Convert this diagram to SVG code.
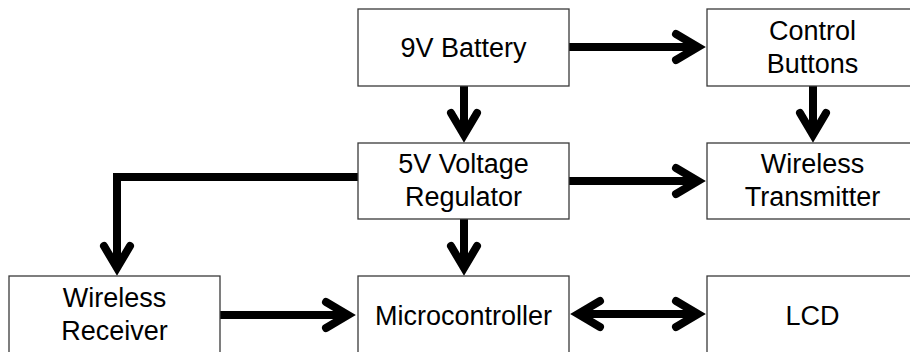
<svg xmlns="http://www.w3.org/2000/svg" width="910" height="352" viewBox="0 0 910 352">
<style>
.box{fill:#ffffff;stroke:#3a3a3a;stroke-width:1.3}
.lbl{font-family:"Liberation Sans",Arial,sans-serif;font-size:27px;fill:#000000;text-anchor:middle}
.wire{fill:none;stroke:#000000;stroke-width:8}
.head{fill:none;stroke:#000000;stroke-width:8;stroke-linecap:round;stroke-linejoin:miter}
</style>
<defs>
<marker id="arr" markerUnits="userSpaceOnUse" orient="auto-start-reverse" refX="0" refY="0" markerWidth="40" markerHeight="40" viewBox="-30 -20 40 40" overflow="visible">
<path class="head" d="M-22,-13 L0,0 L-22,13"/>
</marker>
</defs>
<rect width="910" height="352" fill="#ffffff"/>
<g id="connectors">
<path class="wire" d="M569,47 H698" marker-end="url(#arr)"/>
<path class="wire" d="M464,86 V135" marker-end="url(#arr)"/>
<path class="wire" d="M813,86 V135" marker-end="url(#arr)"/>
<path class="wire" d="M569,181 H698" marker-end="url(#arr)"/>
<path class="wire" d="M358,177 H117 V268" marker-end="url(#arr)"/>
<path class="wire" d="M464,219 V268" marker-end="url(#arr)"/>
<path class="wire" d="M220,315 H348" marker-end="url(#arr)"/>
<path class="wire" d="M578,314 H698" marker-start="url(#arr)" marker-end="url(#arr)"/>
</g>
<g id="battery">
<rect class="box" x="358" y="9" width="211" height="77"/>
<text class="lbl" x="463.5" y="57">9V Battery</text>
</g>
<g id="buttons">
<rect class="box" x="707" y="9" width="211" height="77"/>
<text class="lbl" x="812.5" y="40">Control</text>
<text class="lbl" x="812.5" y="73">Buttons</text>
</g>
<g id="regulator">
<rect class="box" x="358" y="143" width="211" height="76"/>
<text class="lbl" x="463.5" y="173">5V Voltage</text>
<text class="lbl" x="463.5" y="206">Regulator</text>
</g>
<g id="transmitter">
<rect class="box" x="707" y="143" width="211" height="76"/>
<text class="lbl" x="812.5" y="173">Wireless</text>
<text class="lbl" x="812.5" y="206">Transmitter</text>
</g>
<g id="receiver">
<rect class="box" x="9" y="276" width="211" height="77"/>
<text class="lbl" x="114.5" y="307">Wireless</text>
<text class="lbl" x="114.5" y="340">Receiver</text>
</g>
<g id="microcontroller">
<rect class="box" x="358" y="276" width="211" height="77"/>
<text class="lbl" x="463.5" y="325">Microcontroller</text>
</g>
<g id="lcd">
<rect class="box" x="707" y="276" width="211" height="77"/>
<text class="lbl" x="812.5" y="325">LCD</text>
</g>
</svg>
